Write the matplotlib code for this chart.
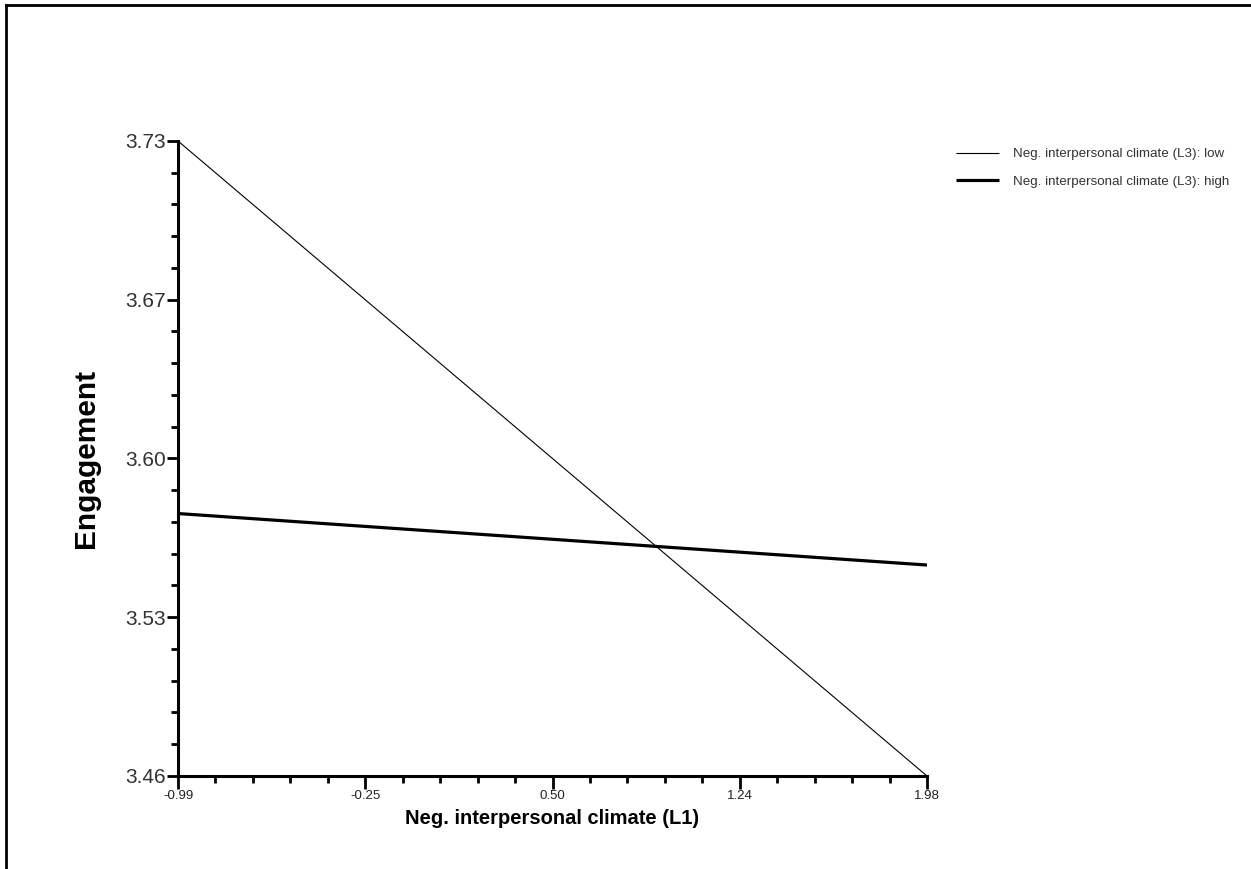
import matplotlib
matplotlib.use("Agg")
import matplotlib.pyplot as plt
from matplotlib.lines import Line2D
import numpy as np

plt.rcParams['font.family'] = ['Liberation Sans', 'DejaVu Sans']

# Data
x_vals = [-0.99, 1.98]
low_vals = [3.73, 3.46]
high_vals = [3.5716, 3.5497]
series_labels = ["Neg. interpersonal climate (L3): low",
                 "Neg. interpersonal climate (L3): high"]
x_ticks = [-0.99, -0.2475, 0.495, 1.2375, 1.98]
x_ticklabels = ["-0.99", "-0.25", "0.50", "1.24", "1.98"]
y_ticks = [3.46, 3.5275, 3.595, 3.6625, 3.73]
y_ticklabels = ["3.46", "3.53", "3.60", "3.67", "3.73"]

fig = plt.figure(figsize=(12.51, 8.69), dpi=100)
ax = fig.add_axes([178/1251, 1-776/869, (927-178)/1251, (776-141)/869])

l1, = ax.plot(x_vals, low_vals, color='black', lw=0.8, solid_capstyle='butt')
l2, = ax.plot(x_vals, high_vals, color='black', lw=2.3, solid_capstyle='butt')

ax.set_xlim(x_ticks[0], x_ticks[-1])
ax.set_ylim(y_ticks[0], y_ticks[-1])

for s in ['top', 'right']:
    ax.spines[s].set_visible(False)
for s in ['left', 'bottom']:
    ax.spines[s].set_linewidth(2.2)

ax.set_xticks(x_ticks)
ax.set_xticklabels(x_ticklabels, fontsize=9.5, color='#222222')
ax.set_yticks(y_ticks)
ax.set_yticklabels(y_ticklabels, fontsize=15, color='#333333')

xminor = []
for a, b in zip(x_ticks[:-1], x_ticks[1:]):
    xminor += list(np.linspace(a, b, 6)[1:-1])
yminor = []
for a, b in zip(y_ticks[:-1], y_ticks[1:]):
    yminor += list(np.linspace(a, b, 6)[1:-1])
ax.set_xticks(xminor, minor=True)
ax.set_yticks(yminor, minor=True)

ax.tick_params(axis='both', which='major', direction='out', length=8, width=2, pad=1)
ax.tick_params(axis='both', which='minor', direction='out', length=5, width=2)
ax.tick_params(axis='x', which='major', length=9, pad=1)

ax.set_xlabel("Neg. interpersonal climate (L1)", fontsize=14.5, fontweight='bold', labelpad=5)
ax.set_ylabel("Engagement", fontsize=21.5, fontweight='bold', labelpad=18)

leg = ax.legend([l1, l2], series_labels, loc='upper left',
                bbox_to_anchor=(956/1251, 1-148/869), bbox_transform=fig.transFigure,
                frameon=False, fontsize=9.6, handlelength=3.2, handletextpad=1.05,
                labelspacing=1.15, borderpad=0, borderaxespad=0)
for t in leg.get_texts():
    t.set_color('#333333')

# Figure border (top and left edges)
fig.add_artist(Line2D([6/1251, 6/1251], [0, 1-5/869], transform=fig.transFigure,
                      color='black', lw=2))
fig.add_artist(Line2D([6/1251, 1], [1-5/869, 1-5/869], transform=fig.transFigure,
                      color='black', lw=2))

fig.savefig("out.png", dpi=100)
